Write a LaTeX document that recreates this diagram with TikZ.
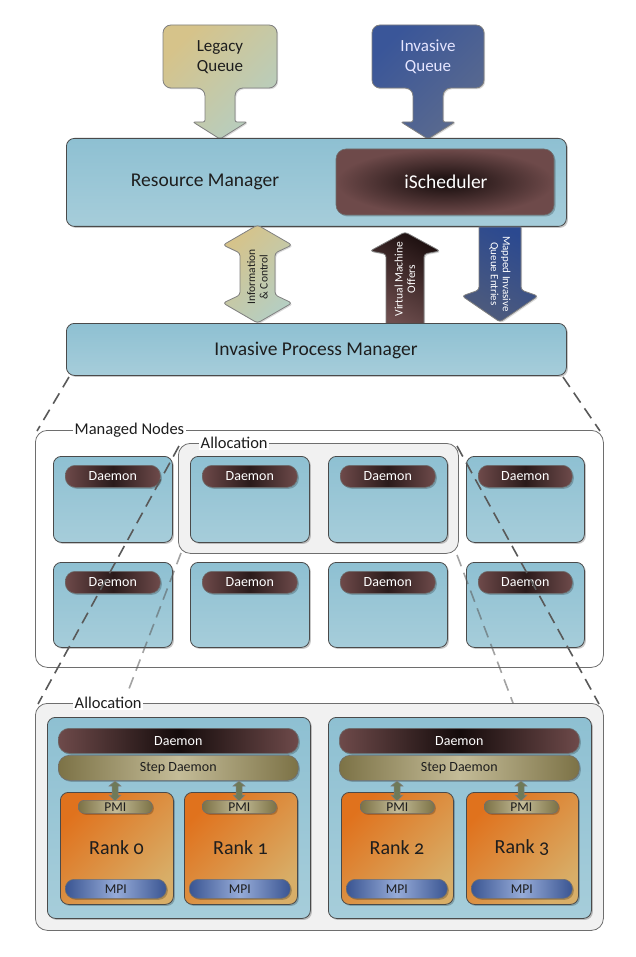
\documentclass[tikz,border=0pt]{standalone}
\usepackage{fontspec}
\setmainfont{Carlito}
\usetikzlibrary{shadows}
\definecolor{blueT}{HTML}{8EC0D2}
\definecolor{blueB}{HTML}{A6CDDA}
\definecolor{edge}{HTML}{4A4A4A}
\definecolor{brownE}{HTML}{6E4A4A}
\definecolor{brownC}{HTML}{140B0B}
\definecolor{oliveE}{HTML}{7C7246}
\definecolor{oliveC}{HTML}{C4BC98}
\definecolor{mpiE}{HTML}{3A5592}
\definecolor{mpiC}{HTML}{96ABD8}
\definecolor{orT}{HTML}{E0721D}
\definecolor{orB}{HTML}{D8AE68}
\definecolor{legA}{HTML}{D6C38A}
\definecolor{legB}{HTML}{B5CEC2}
\definecolor{invA}{HTML}{3A5699}
\definecolor{invB}{HTML}{5C6B8E}
\definecolor{mapA}{HTML}{2B4990}
\definecolor{mapB}{HTML}{4E5B7C}
\definecolor{vmA}{HTML}{1E1010}
\definecolor{vmB}{HTML}{6E4E4E}
\definecolor{allocG}{HTML}{F1F1F1}
\definecolor{frameG}{HTML}{6E6E6E}
\definecolor{sarrow}{HTML}{6F7A58}
\definecolor{dtxt}{HTML}{1E1E1E}
\newcommand\boxat[6]{\node[#1,anchor=north west,inner sep=0pt,minimum width={(#5)-(#3)},minimum height={(#6)-(#4)}] (#2) at (#3,#4) {};}
\newcommand\smallarr[1]{%
  \path[draw=edge!70,line width=0.5pt,fill=sarrow]
    (#1,781) -- ({#1+6},786) -- ({#1+3},786) -- ({#1+3},795) -- ({#1+6},795) -- (#1,801)
    -- ({#1-6},795) -- ({#1-3},795) -- ({#1-3},786) -- ({#1-6},786) -- cycle;}
\begin{document}
\begin{tikzpicture}[x=1pt,y=-1pt,
  shd/.style={drop shadow={shadow xshift=1.5pt,shadow yshift=-1.5pt,opacity=0.22,fill=black}},
  bluebox/.style={draw=edge,line width=0.8pt,rounded corners=8pt,top color=blueT,bottom color=blueB,shd},
  framebox/.style={draw=frameG,line width=0.8pt,rounded corners=12pt,fill=white},
  allocbox/.style={draw=frameG,line width=0.8pt,rounded corners=12pt,fill=allocG},
  pill/.style={draw=edge!80,line width=0.6pt,rounded corners=10pt,left color=brownE,right color=brownE,middle color=brownC!75!brownE,shd},
  dbar/.style={draw=edge!80,line width=0.6pt,rounded corners=11pt,left color=brownE,right color=brownE,middle color=brownC,shd},
  sbar/.style={draw=edge!80,line width=0.6pt,rounded corners=11pt,left color=oliveE,right color=oliveE,middle color=oliveC,shd},
  pmi/.style={draw=edge!80,line width=0.6pt,rounded corners=6pt,left color=oliveE,right color=oliveE,middle color=oliveC,shd},
  mpi/.style={draw=edge!80,line width=0.6pt,rounded corners=9pt,left color=mpiE,right color=mpiE,middle color=mpiC,shd},
  rankbox/.style={draw=edge,line width=0.8pt,rounded corners=8pt,top color=orT,bottom color=orB,shading angle=45,shd},
  callout/.style={draw=edge!70,line width=0.8pt,drop shadow={shadow xshift=1.2pt,shadow yshift=-1.2pt,opacity=0.15,fill=black}},
  bigtext/.style={font=\fontsize{19.5pt}{23pt}\selectfont,text=dtxt},
  qtext/.style={font=\fontsize{17pt}{19.5pt}\selectfont,align=center},
  lbl/.style={font=\fontsize{16.5pt}{19pt}\selectfont,fill=white,inner sep=1.5pt,anchor=west,text=dtxt},
  dtext/.style={font=\fontsize{14pt}{16pt}\selectfont,text=white},
  stext/.style={font=\fontsize{14pt}{16pt}\selectfont,text=dtxt},
  atext/.style={font=\fontsize{11.5pt}{12.5pt}\selectfont,align=center},
  dashline/.style={draw=black!65,line width=1.6pt,dash pattern=on 12pt off 7pt},
  lightdash/.style={dashline,opacity=0.55}
]
\useasboundingbox (0,0) rectangle (636,957);
\fill[white] (0,0) rectangle (636,957);

% ---------- queues ----------
\path[callout,top color=legA,bottom color=legB,shading angle=45,rounded corners=8pt]
  (205,110) -- (205,88) -- (163,88) -- (163,25) -- (277,25) -- (277,88) -- (235,88)
  [rounded corners=2pt] -- (235,122) -- (247,122) -- (220,139) -- (193,122) -- (205,122) -- cycle;
\node[qtext,text=dtxt] (lq) at (220,57) {Legacy\\Queue};

\path[callout,top color=invA,bottom color=invB,shading angle=45,rounded corners=8pt]
  (413,110) -- (413,88) -- (372,88) -- (372,25) -- (484,25) -- (484,88) -- (443,88)
  [rounded corners=2pt] -- (443,122) -- (455,122) -- (428,139) -- (401,122) -- (413,122) -- cycle;
\node[qtext,text=white!90!blue] (iq) at (428,57) {Invasive\\Queue};

% ---------- resource manager ----------
\boxat{bluebox}{rm}{66}{138}{566}{226}
\node[bigtext] (rmt) at (205,182) {Resource Manager};
\path[draw=edge!80,line width=0.6pt,rounded corners=10pt,inner color=brownC,outer color=brownE,shd]
  (336,149) rectangle (554,215);
\node[bigtext,text=white] (isch) at (446,182) {iScheduler};

% ---------- middle arrows ----------
\path[callout,top color=legA,bottom color=legB,shading angle=45,rounded corners=3pt]
  (257.5,225) -- (292,245) -- (275,253) -- (275,295) -- (292,303) -- (257.5,323)
  -- (223,303) -- (240,295) -- (240,253) -- (223,245) -- cycle;
\node[atext,text=dtxt,rotate=90] (info) at (257.5,277) {Information\\\& Control};

\path[callout,top color=vmA,bottom color=vmB,shading angle=-30]
  [rounded corners=3pt] (405,232) -- (440,251) -- (424,254) [sharp corners] -- (424,326) -- (386,326)
  [rounded corners=3pt] -- (386,254) -- (370,251) -- cycle;
\node[atext,text=white,rotate=90] (vm) at (405,279) {Virtual Machine\\Offers};

\path[callout,top color=mapA,bottom color=mapB,shading angle=-30]
  (479,227) -- (521,227) [rounded corners=3pt] -- (521,290) -- (538,296) -- (500,322)
  -- (462,296) -- (479,290) [sharp corners] -- cycle;
\node[atext,text=white,rotate=-90,font=\fontsize{11pt}{12pt}\selectfont] (mq) at (500,274) {Mapped Invasive\\Queue Entries};

% ---------- invasive process manager ----------
\boxat{bluebox}{ipm}{66}{323}{566}{375}
\node[bigtext] (ipmt) at (316,350) {Invasive Process Manager};

% ---------- managed nodes ----------
\boxat{framebox}{mn}{35}{430}{603}{667}
\node[lbl] (mnl) at (73,430) {Managed Nodes};
\boxat{allocbox}{al1}{178}{443}{458}{553}
\node[lbl] (al1l) at (199,443) {Allocation};

\foreach \c/\xa/\xb in {1/53/172,2/190/309,3/328/447,4/466/584}{
  \foreach \r/\ya/\yb in {1/456/542,2/562/647}{
    \boxat{bluebox}{n\r\c}{\xa}{\ya}{\xb}{\yb}
    \boxat{pill}{p\r\c}{\xa+12}{\ya+9}{\xb-12}{\ya+31}
    \node[dtext] (t\r\c) at (p\r\c) {Daemon};
  }
}

% ---------- allocation detail ----------
\boxat{allocbox}{al2}{35}{703}{603}{930}
\node[lbl] (al2l) at (73,703) {Allocation};

\boxat{bluebox}{ib1}{47}{717}{310}{918}
\boxat{bluebox}{ib2}{328}{717}{591}{918}

\boxat{dbar}{db1}{58}{728}{298}{753}
\node[dtext] (db1t) at (db1) {Daemon};
\boxat{sbar}{sb1}{58}{755}{298}{780}
\node[stext] (sb1t) at (sb1) {Step Daemon};
\boxat{dbar}{db2}{339}{728}{579}{753}
\node[dtext] (db2t) at (db2) {Daemon};
\boxat{sbar}{sb2}{339}{755}{579}{780}
\node[stext] (sb2t) at (sb2) {Step Daemon};

\foreach \k/\xa/\xb/\pa/\ma in {0/60/173/78/65,1/184/297/202/189,2/341/453/360/346,3/466/578/484/471}{
  \boxat{rankbox}{r\k}{\xa}{792}{\xb}{904}
  \boxat{pmi}{pm\k}{\pa}{800}{\pa+74}{813}
  \node[stext,font=\fontsize{13.5pt}{14pt}\selectfont] (pm\k t) at (pm\k) {PMI};
  \boxat{mpi}{mp\k}{\ma}{879}{\ma+101}{898}
  \node[stext,font=\fontsize{13.5pt}{14pt}\selectfont] (mp\k t) at (mp\k) {MPI};
  \node[bigtext,font={\fontsize{20pt}{23pt}\selectfont\addfontfeatures{Numbers=OldStyle}}] (r\k t) at ({(\xa+\xb)/2},848) {Rank \k};
}
\smallarr{115}
\smallarr{239}
\smallarr{397}
\smallarr{521}

% ---------- dashed zoom lines ----------
\coordinate (a1) at (69,377);  \coordinate (a2) at (37,431);
\coordinate (b1) at (563,377); \coordinate (b2) at (600,431);
\coordinate (c1) at (179,446); \coordinate (c2) at (38,704);
\coordinate (e1) at (457,446); \coordinate (e2) at (599,704);
\coordinate (f1) at (181,553); \coordinate (f2) at (127,694);
\coordinate (g1) at (457,555); \coordinate (g2) at (513,703);
\draw[dashline] (a1) -- (a2);
\draw[dashline] (b1) -- (b2);
\draw[dashline] (c1) -- (c2);
\draw[dashline] (e1) -- (e2);
\draw[lightdash] (f1) -- (f2);
\draw[lightdash] (g1) -- (g2);
\end{tikzpicture}
\end{document}
